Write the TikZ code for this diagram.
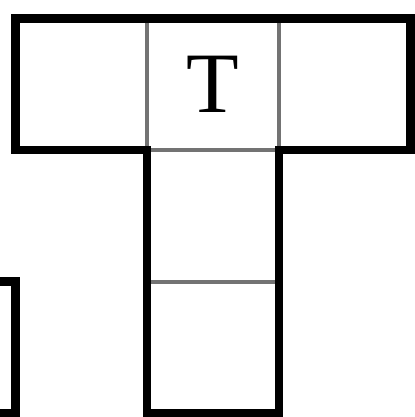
\documentclass[tikz,border=0pt]{standalone}
\usepackage{fontspec}
\setmainfont{Liberation Serif}
\usetikzlibrary{positioning}
\begin{document}
\begin{tikzpicture}[x=0.02cm,y=-0.02cm,
    cell/.style={draw=black!55,line width=1.8pt,minimum size=2.64cm,
                 inner sep=0pt,outer sep=0pt,font=\fontsize{49}{49}\selectfont},
    rim/.style={line width=5.1pt,line join=miter}]
  \useasboundingbox (0,0) rectangle (414,417);
  % the T
  \node[cell] (tm) at (213,84) {T};
  \node[cell,left=0pt of tm]  (tl) {};
  \node[cell,right=0pt of tm] (tr) {};
  \node[cell,below=0pt of tm] (mm) {};
  \node[cell,below=0pt of mm] (bm) {};
  % piece cut off at the left edge
  \node[cell,left=2.64cm of bm] (px) {};
  \draw[rim] (tl.north west) -| (tr.south east) -- (mm.north east)
    -- (bm.south east) -- (bm.south west) -- (mm.north west)
    -- (tl.south west) -- cycle;
  \draw[rim] (px.north west) rectangle (px.south east);
\end{tikzpicture}
\end{document}
